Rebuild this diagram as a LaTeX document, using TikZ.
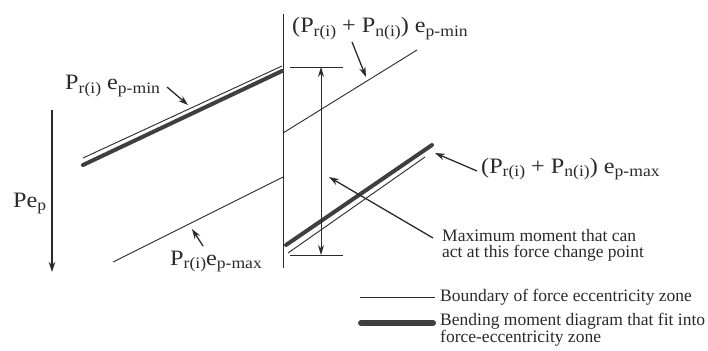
\documentclass[tikz,border=0pt]{standalone}
\usepackage{fontspec}
\usepackage{graphicx}
\setmainfont{Liberation Serif}
\usetikzlibrary{arrows.meta}
\newcommand\sbs[1]{\raisebox{-3.5pt}{\fontsize{16}{16}\selectfont #1}}
\newcommand\fx[1]{\scalebox{1.1}[1]{\fontsize{22}{24}\selectfont #1}}
\definecolor{ink}{HTML}{2A2A2A}
\begin{document}
\begin{tikzpicture}[x=1pt,y=-1pt,
  bnd/.style={line width=0.9pt, draw=ink},
  bmd/.style={line width=4pt, draw=ink!90, line cap=round},
  lab/.style={inner sep=0pt, anchor=base west, text=ink, font=\fontsize{17.5}{16}\selectfont},
  ptr/.style={line width=1.3pt, draw=ink, -{Stealth[length=10pt,width=6.5pt]}},
  dim/.style={line width=1pt, draw=ink, {Stealth[length=10pt,width=6pt]}-{Stealth[length=10pt,width=6pt]}}]
\useasboundingbox[fill=white] (0,0) rectangle (708,350);

% vertical line at the force change point
\coordinate (vt) at (283,14);
\coordinate (vb) at (283,268);
\draw[bnd] (vt) -- (vb);

% left part
\coordinate (l1a) at (83,158);  \coordinate (l1b) at (282,66);
\coordinate (l2a) at (83,165);  \coordinate (l2b) at (282,71);
\coordinate (l3a) at (113,262); \coordinate (l3b) at (283,177);
\draw[bnd] (l1a) -- (l1b);
\draw[bmd] (l2a) -- (l2b);
\draw[bnd] (l3a) -- (l3b);

% right part
\coordinate (r1a) at (283,133); \coordinate (r1b) at (417,50);
\coordinate (r2a) at (286,245); \coordinate (r2b) at (432,145);
\coordinate (r3a) at (288,253); \coordinate (r3b) at (425,157);
\draw[bnd] (r1a) -- (r1b);
\draw[bmd] (r2a) -- (r2b);
\draw[bnd] (r3a) -- (r3b);

% dimension marks
\coordinate (t1a) at (290,67);  \coordinate (t1b) at (343,67);
\coordinate (t2a) at (290,255); \coordinate (t2b) at (343,255);
\draw[bnd] (t1a) -- (t1b);
\draw[bnd] (t2a) -- (t2b);
\coordinate (d1) at (321,67); \coordinate (d2) at (321,255);
\draw[dim] (d1) -- (d2);

% Pe_p arrow
\coordinate (pa) at (52,110); \coordinate (pb) at (52,272);
\draw[ptr] (pa) -- (pb);
\node[lab] (pe) at (13,207) {\fx{Pe\sbs{p}}};

% labels
\node[lab] (lmin) at (65,90) {\fx{P\sbs{r(i)} e\sbs{p-min}}};
\coordinate (lminT) at (167,87); \coordinate (lminH) at (188,105);
\draw[ptr] (lminT) -- (lminH);

\node[lab] (lmax) at (170,265) {\fx{P\sbs{r(i)}e\sbs{p-max}}};
\coordinate (lmaxT) at (203,246); \coordinate (lmaxH) at (192,229);
\draw[ptr] (lmaxT) -- (lmaxH);

\node[lab] (rmin) at (292,33) {\fx{(P\sbs{r(i)} + P\sbs{n(i)}) e\sbs{p-min}}};
\coordinate (rminT) at (352,42); \coordinate (rminH) at (366,77);
\draw[ptr] (rminT) -- (rminH);

\node[lab] (rmax) at (481,173) {\fx{(P\sbs{r(i)} + P\sbs{n(i)}) e\sbs{p-max}}};
\coordinate (rmaxT) at (477,171); \coordinate (rmaxH) at (435,153);
\draw[ptr] (rmaxT) -- (rmaxH);

\node[lab, align=left, anchor=north west] (mm) at (442,229)
  {Maximum moment that can\\act at this force change point};
\coordinate (mmT) at (433,238); \coordinate (mmH) at (329,177);
\draw[ptr] (mmT) -- (mmH);

% legend
\coordinate (lg1a) at (360,297); \coordinate (lg1b) at (435,297);
\draw[bnd] (lg1a) -- (lg1b);
\node[lab] (lgt1) at (440,301) {Boundary of force eccentricity zone};
\coordinate (lg2a) at (361,323); \coordinate (lg2b) at (433,323);
\draw[bmd, line width=6pt] (lg2a) -- (lg2b);
\node[lab, align=left, anchor=north west] (lgt2) at (440,313)
  {Bending moment diagram that fit into\\force-eccentricity zone};
\end{tikzpicture}
\end{document}
